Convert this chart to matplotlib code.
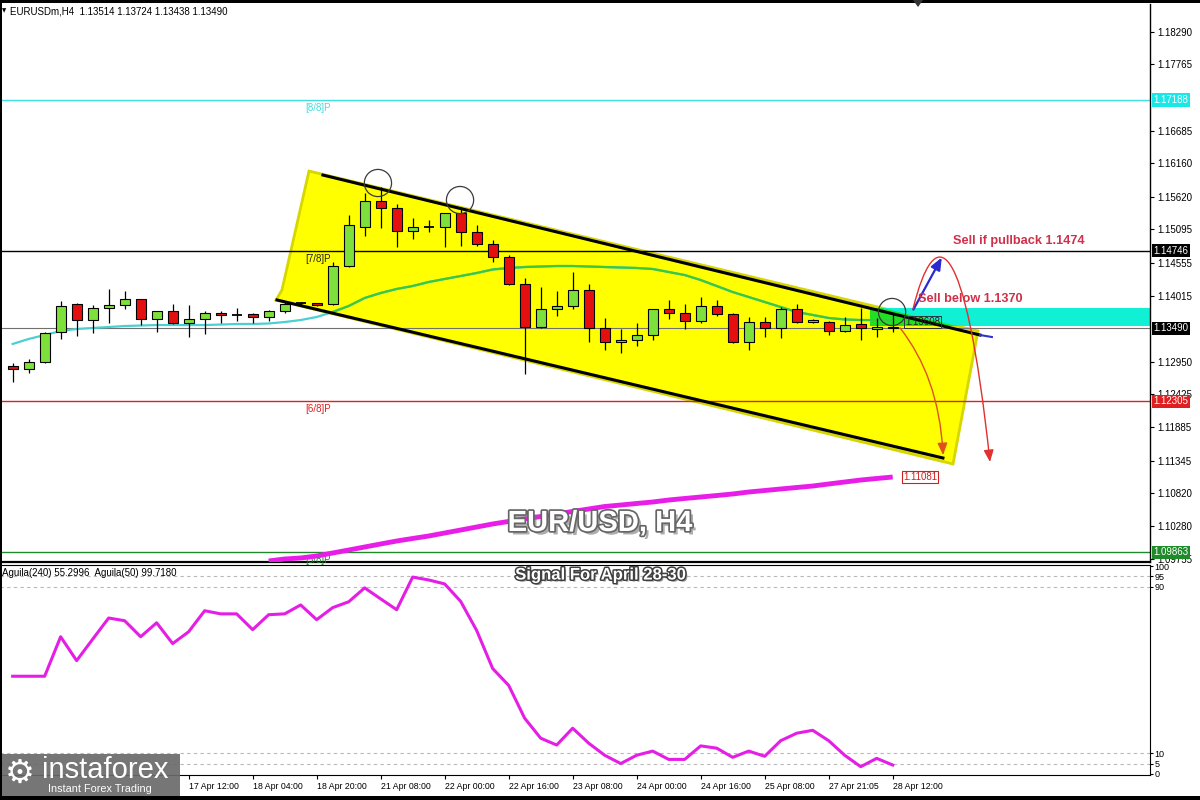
import matplotlib
matplotlib.use("Agg")
import matplotlib.pyplot as plt
import matplotlib.patheffects as pe
from matplotlib.patches import Polygon, Rectangle, Ellipse, FancyArrowPatch
from matplotlib.path import Path

plt.rcParams["font.family"] = ["Liberation Sans", "DejaVu Sans"]

# EURUSD H4 candles
opens = [1.12884, 1.12826, 1.12939, 1.13425, 1.13879, 1.13620, 1.13814, 1.13868, 1.13960, 1.13636,
         1.13765, 1.13571, 1.13636, 1.13738, 1.13712, 1.13722, 1.13668, 1.13765, 1.13895, 1.13895,
         1.13880, 1.14499, 1.15136, 1.15547, 1.15434, 1.15061, 1.15128, 1.15136, 1.15353, 1.15055,
         1.14851, 1.14650, 1.14203, 1.13506, 1.13798, 1.13856, 1.14110, 1.13490, 1.13263, 1.13300,
         1.13381, 1.13798, 1.13733, 1.13608, 1.13851, 1.13722, 1.13263, 1.13587, 1.13490, 1.13798,
         1.13587, 1.13597, 1.13446, 1.13555, 1.13479, 1.13514]
highs = [1.12923, 1.12993, 1.13435, 1.13932, 1.13900, 1.13868, 1.14122, 1.14099, 1.13970, 1.13775,
         1.13884, 1.13863, 1.13770, 1.13765, 1.13814, 1.13743, 1.13782, 1.13932, 1.13922, 1.13905,
         1.14569, 1.15325, 1.15677, 1.15784, 1.15504, 1.15272, 1.15244, 1.15360, 1.15460, 1.15163,
         1.14920, 1.14677, 1.14300, 1.14164, 1.14094, 1.14397, 1.14208, 1.13652, 1.13479, 1.13571,
         1.13805, 1.13948, 1.13884, 1.13992, 1.13950, 1.13730, 1.13678, 1.13668, 1.13830, 1.13884,
         1.13646, 1.13605, 1.13668, 1.13814, 1.13652, 1.13724]
lows = [1.12625, 1.12761, 1.12923, 1.13317, 1.13370, 1.13409, 1.13581, 1.13803, 1.13543, 1.13425,
        1.13555, 1.13344, 1.13393, 1.13571, 1.13608, 1.13571, 1.13613, 1.13743, 1.13845, 1.13850,
        1.13870, 1.14488, 1.14990, 1.15110, 1.14812, 1.14932, 1.15055, 1.14812, 1.14823, 1.14823,
        1.14569, 1.14190, 1.12757, 1.13490, 1.13694, 1.13798, 1.13273, 1.13138, 1.13085, 1.13208,
        1.13300, 1.13636, 1.13474, 1.13571, 1.13690, 1.13247, 1.13138, 1.13344, 1.13328, 1.13580,
        1.13571, 1.13381, 1.13425, 1.13300, 1.13344, 1.13438]
closes = [1.12826, 1.12939, 1.13419, 1.13856, 1.13620, 1.13814, 1.13863, 1.13960, 1.13636, 1.13765,
          1.13571, 1.13636, 1.13738, 1.13700, 1.13712, 1.13668, 1.13765, 1.13879, 1.13895, 1.13868,
          1.14499, 1.15163, 1.15547, 1.15434, 1.15061, 1.15128, 1.15128, 1.15353, 1.15055, 1.14851,
          1.14650, 1.14203, 1.13506, 1.13798, 1.13856, 1.14110, 1.13490, 1.13263, 1.13300, 1.13381,
          1.13798, 1.13733, 1.13608, 1.13851, 1.13722, 1.13263, 1.13597, 1.13490, 1.13798, 1.13587,
          1.13624, 1.13446, 1.13543, 1.13490, 1.13516, 1.13490]

# short moving average (cyan / green line)
ma_fast = [1.13236, 1.13317, 1.13381, 1.13446, 1.13479, 1.13495, 1.13511, 1.13527, 1.13535, 1.13543,
           1.13543, 1.13543, 1.13543, 1.13551, 1.13560, 1.13560, 1.13568, 1.13592, 1.13624, 1.13673,
           1.13754, 1.13851, 1.13981, 1.14062, 1.14127, 1.14175, 1.14240, 1.14289, 1.14337, 1.14386,
           1.14443, 1.14467, 1.14483, 1.14491, 1.14499, 1.14499, 1.14491, 1.14483, 1.14475, 1.14467,
           1.14451, 1.14402, 1.14353, 1.14272, 1.14175, 1.14078, 1.13997, 1.13916, 1.13835, 1.13754,
           1.13706, 1.13657, 1.13633, 1.13624, 1.13624, 1.13624]

# long moving average (magenta), starts at bar 16
ma_slow_start = 16
ma_slow = [1.09720, 1.09753, 1.09769, 1.09801, 1.09850, 1.09898, 1.09947, 1.09996, 1.10044, 1.10085,
           1.10125, 1.10174, 1.10222, 1.10271, 1.10320, 1.10361, 1.10401, 1.10441, 1.10482, 1.10523,
           1.10563, 1.10603, 1.10627, 1.10652, 1.10676, 1.10708, 1.10733, 1.10757, 1.10781, 1.10806,
           1.10838, 1.10862, 1.10887, 1.10911, 1.10935, 1.10968, 1.11000, 1.11032, 1.11057, 1.11081]

# Aguila oscillator
aguila = [47, 47, 47, 66, 54.5, 64.8, 75, 73.7, 66, 72.7, 62.7, 68.4, 78.5, 77, 77, 69.4, 76.6, 77,
          81.3, 74.2, 80, 82.8, 89.5, 84.2, 79, 94.7, 93.3, 91.4, 83, 69, 50.7, 42.6, 26.8, 17.2, 13.9,
          22, 14.8, 9, 5, 9, 11, 7, 7, 13.5, 12.4, 8, 11, 8.5, 16, 19.6, 21, 16, 9, 3.5, 7.5, 4.3]

tick_bars = [11, 15, 19, 23, 27, 31, 35, 39, 43, 47, 51, 55]
tick_labels = ["17 Apr 12:00", "18 Apr 04:00", "18 Apr 20:00", "21 Apr 08:00", "22 Apr 00:00",
               "22 Apr 16:00", "23 Apr 08:00", "24 Apr 00:00", "24 Apr 16:00", "25 Apr 08:00",
               "27 Apr 21:05", "28 Apr 12:00"]
price_ticks = [1.18290, 1.17765, 1.16685, 1.16160, 1.15620, 1.15095, 1.14555, 1.14015,
               1.12950, 1.12425, 1.11885, 1.11345, 1.10820, 1.10280, 1.09755]

# Murrey levels
level_prices = [1.17188, 1.14746, 1.12305, 1.09863]
level_names = ["[8/8]P", "[7/8]P", "[6/8]P", "[5/8]P"]
level_colors = ["#3ee0e0", "black", "#e02020", "#1f8a2a"]
level_text_colors = ["#3ee0e0", "#222222", "#e02020", "#1f8a2a"]

GREEN = "#7ee03a"
RED = "#e41010"
XL = (-0.79, 71.08)

fig = plt.figure(figsize=(12, 8), dpi=100, facecolor="white")
ax = fig.add_axes([0, 1 - 562 / 800, 1150 / 1200, 558 / 800])
ax2 = fig.add_axes([0, 1 - 775 / 800, 1150 / 1200, 210 / 800])

ax.set_xlim(*XL)
ax.set_ylim(1.09704, 1.18744)
ax2.set_xlim(*XL)
ax2.set_ylim(-0.5, 100.5)

# yellow channel (drawn first, like a background highlight)
chan = Polygon([(18.52, 1.16038), (60.33, 1.13446), (58.77, 1.11292), (16.46, 1.13948), (16.83, 1.14110)],
               closed=True, fc="#ffff00", ec="#d6d600", lw=2, zorder=1)
ax.add_patch(chan)

# level lines
for p, c in zip(level_prices, level_colors):
    ax.axhline(p, color=c, lw=1.0, zorder=2)
for p, s, c in zip(level_prices, level_names, level_text_colors):
    ax.annotate(s, (19.1, p), xytext=(0, -2), textcoords="offset points", fontsize=7,
                color=c, ha="center", va="top", zorder=3)
ax.axhline(closes[-1], color="#707070", lw=0.8, zorder=2)

# sell zone
zone = Rectangle((53.58, 1.13527), XL[1] - 53.58, 1.13819 - 1.13527, fc="#10f0d4", ec="none", zorder=2)
ax.add_patch(zone)
zone_g = Rectangle((53.58, 1.13527), XL[1] - 53.58, 1.13819 - 1.13527, fc="#20e020", ec="none", zorder=2.1)
ax.add_patch(zone_g)
zone_g.set_clip_path(chan)

# moving averages
bars = list(range(len(opens)))
ax.plot(bars, ma_fast, color="#4ccfd0", lw=1.6, zorder=3)
ln, = ax.plot(bars, ma_fast, color="#3cc83c", lw=1.6, zorder=3.1)
ln.set_clip_path(chan)
slow_x = list(range(ma_slow_start, ma_slow_start + len(ma_slow)))
ax.plot(slow_x, ma_slow, color="#e81ee8", lw=3.5, zorder=3, solid_capstyle="butt")
ax.text(55.64, ma_slow[-1], f"{ma_slow[-1]:.5f}", fontsize=7, color="#d02020", va="center", ha="left",
        bbox=dict(fc="white", ec="#d02020", lw=0.8, pad=1), zorder=6)

# candles
for i in bars:
    o, h, l, c = opens[i], highs[i], lows[i], closes[i]
    ax.vlines(i, l, h, color="black", lw=0.9, zorder=4)
    if c == o:
        ax.hlines(c, i - 0.31, i + 0.31, color="black", lw=1.3, zorder=5)
    else:
        col = GREEN if c > o else RED
        ax.bar(i, abs(c - o), 0.62, min(o, c), color=col, edgecolor="black", lw=0.8, zorder=5)

# channel lines
ax.plot([19.39, 60.46], [1.15973, 1.13381], color="black", lw=2.2, zorder=6)
ax.plot([60.46, 61.2], [1.13381, 1.13349], color="#3030d0", lw=1.5, zorder=6)
ax.plot([16.52, 58.14], [1.13949, 1.11389], color="black", lw=2.2, zorder=6)

# circles on touches
for cx, cy in [(22.83, 1.15844), (27.96, 1.15568), (54.96, 1.13754)]:
    ax.add_patch(Ellipse((cx, cy), 1.7, 0.00440, fc="none", ec="#3a3a3a", lw=0.9, zorder=7))

ax.text(55.77, 1.13592, "1.13608", fontsize=7, color="#222222", va="center", ha="left",
        bbox=dict(fc="none", ec="#333333", lw=0.7, pad=0.8), zorder=6)

# arrows
ax.annotate("", xy=(58.15, 1.14677), xytext=(56.21, 1.13754),
            arrowprops=dict(arrowstyle="-|>,head_length=0.6,head_width=0.25", color="#2a2ad0", lw=1.6,
                            mutation_scale=12), zorder=8)
red_path = Path([(56.27, 1.13803), (57.64, 1.15244), (59.52, 1.15082), (61.08, 1.11324)],
                [Path.MOVETO, Path.CURVE4, Path.CURVE4, Path.CURVE4])
ax.add_patch(FancyArrowPatch(path=red_path, arrowstyle="-|>,head_length=0.6,head_width=0.25",
                             mutation_scale=12, color="#e03030", lw=1.0, zorder=8))
org_path = Path([(55.46, 1.13495), (57.02, 1.12977), (57.96, 1.12328), (58.15, 1.11437)],
                [Path.MOVETO, Path.CURVE4, Path.CURVE4, Path.CURVE4])
ax.add_patch(FancyArrowPatch(path=org_path, arrowstyle="-|>,head_length=0.6,head_width=0.25",
                             mutation_scale=12, color="#e0501c", lw=1.0, zorder=8))

ax.text(58.77, 1.14904, "Sell if pullback 1.1474", fontsize=9.2, fontweight="bold", color="#d0304a",
        va="center", ha="left", zorder=8)
ax.text(56.58, 1.13965, "Sell below 1.1370", fontsize=9.2, fontweight="bold", color="#d0304a",
        va="center", ha="left", zorder=8)

# price axis
ax.yaxis.tick_right()
ax.set_yticks(price_ticks)
ax.set_yticklabels([f"{p:.5f}" for p in price_ticks])
ax.tick_params(axis="y", labelsize=7, length=3, pad=2, width=0.8)
ax.set_xticks([])
tag_bg = ["#18e8e8", "black", "#e02020", "#1f8a2a"]
for p, c in zip(level_prices, tag_bg):
    ax.text(1.003, p, f"{p:.5f}", transform=ax.get_yaxis_transform(), fontsize=7, color="white",
            va="center", ha="left", bbox=dict(fc=c, ec="none", pad=1.2), clip_on=False, zorder=10)
ax.text(1.003, closes[-1], f"{closes[-1]:.5f}", transform=ax.get_yaxis_transform(), fontsize=7,
        color="white", va="center", ha="left", bbox=dict(fc="black", ec="none", pad=1.2),
        clip_on=False, zorder=10)
for side in ["left", "top"]:
    ax.spines[side].set_visible(False)
ax.spines["bottom"].set_linewidth(1.6)
ax.spines["right"].set_linewidth(1.0)

# Aguila panel
for lv in [95, 90, 10, 5]:
    ax2.axhline(lv, color="#b8b8b8", lw=0.8, ls=(0, (3, 3)), zorder=1)
ax2.plot(bars, aguila, color="#e51ee5", lw=2.2, zorder=3)
ax2.yaxis.tick_right()
ax2.set_yticks([0, 5, 10, 90, 95, 100])
ax2.tick_params(axis="y", labelsize=6.5, length=2, pad=1, width=0.8)
ax2.set_xticks(tick_bars)
ax2.set_xticklabels(tick_labels, ha="left")
ax2.tick_params(axis="x", labelsize=6.3, length=3, pad=2, width=0.8)
ax2.spines["left"].set_visible(False)
ax2.text(0.002, 0.962, "Aguila(240) 55.2996  Aguila(50) 99.7180", transform=ax2.transAxes,
         fontsize=7, va="center", ha="left")

# header
fig.text(2 / 1200, 1 - 11 / 800, "\u25bc", fontsize=4, va="center", family="DejaVu Sans")
fig.text(10 / 1200, 1 - 11 / 800,
         f"EURUSDm,H4  {opens[-1]:.5f} {highs[-1]:.5f} {lows[-1]:.5f} {closes[-1]:.5f}",
         fontsize=7, va="center", ha="left")

# titles
big_fx = [pe.SimplePatchShadow(offset=(2.5, -2.5), shadow_rgbFace="#777777", alpha=0.6),
          pe.Stroke(linewidth=2.5, foreground="#666666"), pe.Normal()]
fig.text(600 / 1200, 1 - 523 / 800, "EUR/USD, H4", fontsize=21, fontweight="bold", color="white",
         ha="center", va="center", path_effects=big_fx, zorder=20)
fig.text(600 / 1200, 1 - 575 / 800, "Signal For April 28-30", fontsize=12, fontweight="bold",
         color="white", ha="center", va="center", zorder=20,
         path_effects=[pe.SimplePatchShadow(offset=(1.5, -1.5), shadow_rgbFace="#555555", alpha=0.6),
                       pe.Stroke(linewidth=2.2, foreground="#404040"), pe.Normal()])

# logo
fig.patches.append(Rectangle((0, 1 - 797 / 800), 180 / 1200, 43 / 800, transform=fig.transFigure,
                             fc="#6a6a6a", ec="none", alpha=0.92, zorder=15))
fig.text(20 / 1200, 1 - 773 / 800, "\u2699", fontsize=24, color="white", ha="center", va="center",
         family="DejaVu Sans", zorder=16)
fig.text(42 / 1200, 1 - 770 / 800, "instaforex", fontsize=21, color="white", ha="left", va="center",
         zorder=16)
fig.text(48 / 1200, 1 - 789 / 800, "Instant Forex Trading", fontsize=7.8, color="white", ha="left",
         va="center", zorder=16)

# frame
fig.patches.append(Rectangle((0, 1 - 3 / 800), 1, 3 / 800, transform=fig.transFigure, fc="black", zorder=15))
fig.patches.append(Rectangle((0, 0), 1, 4 / 800, transform=fig.transFigure, fc="black", zorder=15))
fig.patches.append(Rectangle((0, 0), 2 / 1200, 1, transform=fig.transFigure, fc="black", zorder=15))
fig.patches.append(Polygon([(913 / 1200, 1), (923 / 1200, 1), (918 / 1200, 1 - 7 / 800)], closed=True,
                           transform=fig.transFigure, fc="#333333", zorder=15))

fig.savefig("out.png", dpi=100, facecolor="white")
